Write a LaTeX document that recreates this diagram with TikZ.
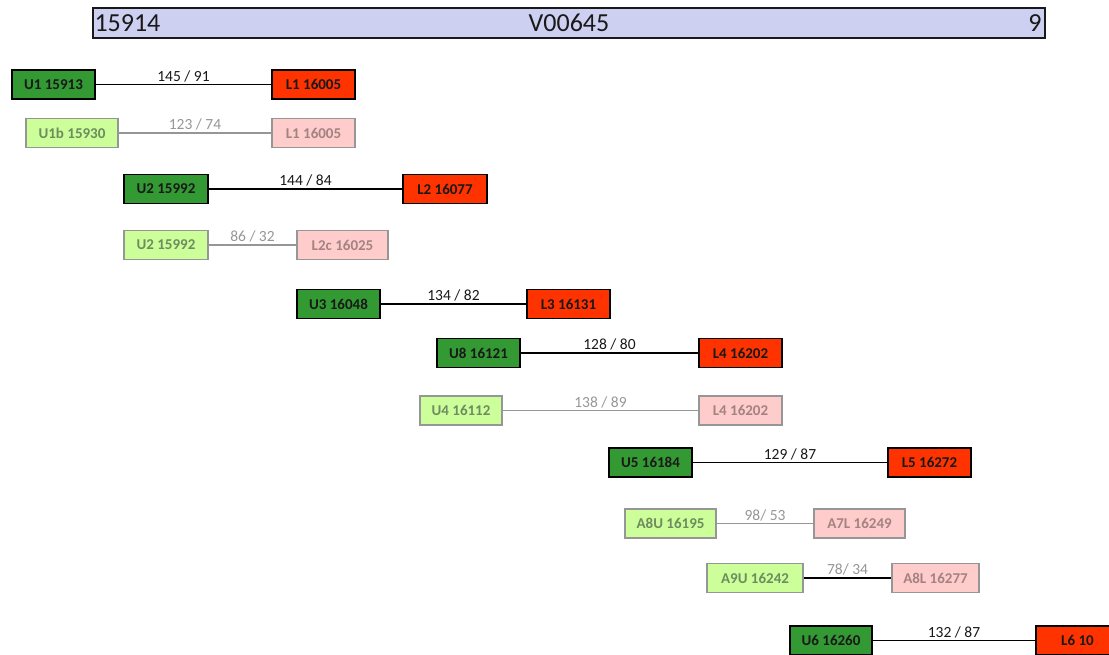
\documentclass[tikz,border=0pt]{standalone}
\usepackage{fontspec}
\setmainfont{Carlito}
\usepackage{xcolor}
\usepackage{tikz}
\usetikzlibrary{positioning}
\definecolor{titlefill}{RGB}{206, 208, 242}
\definecolor{upperdark}{RGB}{51, 153, 51}
\definecolor{lowerdark}{RGB}{255, 51, 0}
\definecolor{upperlight}{RGB}{204, 255, 153}
\definecolor{lowerlight}{RGB}{255, 204, 204}
\definecolor{lightedge}{RGB}{150, 150, 150}
\definecolor{uppertext}{RGB}{110, 140, 95}
\definecolor{lowertext}{RGB}{165, 130, 130}
\definecolor{labelgray}{RGB}{150, 150, 150}
\definecolor{darktext}{RGB}{25, 25, 25}

\begin{document}
\begin{tikzpicture}[
        x=1pt, y=-1pt,
        box/.style={rectangle, line width=1.7pt, minimum height=29pt, minimum width=#1, inner sep=0pt, font=\fontsize{15}{17}\selectfont\bfseries},
        upper/.style={box=#1, draw=black, fill=upperdark, text=darktext},
        lower/.style={box=#1, draw=black, fill=lowerdark, text=darktext},
        upperpale/.style={box=#1, draw=lightedge, fill=upperlight, text=uppertext},
        lowerpale/.style={box=#1, draw=lightedge, fill=lowerlight, text=lowertext},
        link/.style={line width=1.8pt, black},
        palelink/.style={line width=1.8pt, lightedge},
        count/.style={above, inner sep=1.5pt, font=\fontsize{15.5}{17}\selectfont, text=darktext},
        palecount/.style={count, text=labelgray}
    ]
        \useasboundingbox (0,0) rectangle (1109,655);
        \clip (0,0) rectangle (1109,655);

        % header bar
        \node (header) [rectangle, draw=darktext, line width=1.4pt, fill=titlefill, minimum width=952pt, minimum height=30pt, inner sep=0pt] at (569,23) {};
        \node (start) [anchor=west, inner sep=2pt, font=\fontsize{26}{28}\selectfont, text=darktext] at (header.west) {15914};
        \node (vid) [font=\fontsize{26}{28}\selectfont, text=darktext] at (header.center) {V00645};
        \node (num) [anchor=east, inner sep=4pt, font=\fontsize{26}{28}\selectfont, text=darktext] at (header.east) {9};

        % rows
        \node (u1) [upper=83pt] at (53.5,84.5) {U1 15913};
        \node (l1) [lower=83pt] at (313.5,84.5) {L1 16005};
        \draw[link] (u1) -- node[count] {145 / 91} (l1);

        \node (u1b) [upperpale=92pt] at (72,133) {U1b 15930};
        \node (l1b) [lowerpale=83pt] at (313.5,133) {L1 16005};
        \draw[palelink] (u1b) -- node[palecount] {123 / 74} (l1b);

        \node (u2) [upper=84pt] at (166,189) {U2 15992};
        \node (l2) [lower=84pt] at (445,189) {L2 16077};
        \draw[link] (u2) -- node[count] {144 / 84} (l2);

        \node (u2b) [upperpale=84pt] at (166,245) {U2 15992};
        \node (l2c) [lowerpale=91pt] at (342.5,245) {L2c 16025};
        \draw[palelink] (u2b) -- node[palecount] {86 / 32} (l2c);

        \node (u3) [upper=83pt] at (338.5,304) {U3 16048};
        \node (l3) [lower=83pt] at (568.5,304) {L3 16131};
        \draw[link] (u3) -- node[count] {134 / 82} (l3);

        \node (u8) [upper=83pt] at (478.5,353) {U8 16121};
        \node (l4) [lower=83pt] at (740.5,353) {L4 16202};
        \draw[link] (u8) -- node[count] {128 / 80} (l4);

        \node (u4) [upperpale=82pt] at (461,410.5) {U4 16112};
        \node (l4b) [lowerpale=83pt] at (740.5,410.5) {L4 16202};
        \draw[palelink] (u4) -- node[palecount] {138 / 89} (l4b);

        \node (u5) [upper=83pt] at (650.5,462.5) {U5 16184};
        \node (l5) [lower=83pt] at (929.5,462.5) {L5 16272};
        \draw[link] (u5) -- node[count] {129 / 87} (l5);

        \node (a8u) [upperpale=91pt] at (670.5,523.5) {A8U 16195};
        \node (a7l) [lowerpale=91pt] at (859.5,523.5) {A7L 16249};
        \draw[palelink] (a8u) -- node[palecount] {98/ 53} (a7l);

        \node (a9u) [upperpale=96pt] at (755,578) {A9U 16242};
        \node (a8l) [lowerpale=87pt] at (935.5,578) {A8L 16277};
        \draw[link] (a9u) -- node[palecount] {78/ 34} (a8l);

        \node (u6) [upper=82pt] at (831,640.5) {U6 16260};
        \node (l6) [lower=83pt] at (1077.5,640.5) {L6 10};
        \draw[link] (u6) -- node[count] {132 / 87} (l6);
\end{tikzpicture}
\end{document}
